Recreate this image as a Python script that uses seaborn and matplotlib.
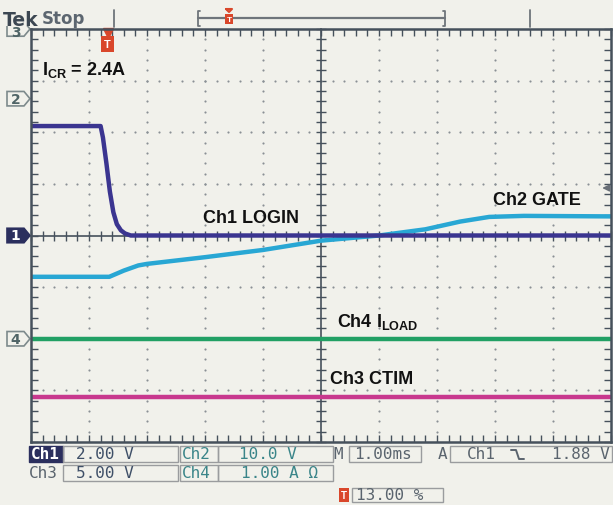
import numpy as np
import matplotlib
matplotlib.use("Agg")
import matplotlib.pyplot as plt
import matplotlib.transforms as mtransforms
from matplotlib.ticker import MultipleLocator, NullFormatter
from matplotlib.patches import Rectangle, Polygon
from matplotlib.lines import Line2D
import seaborn as sns

# trace breakpoints in screen divisions (x: 0..10, y: -4..4, 0 = centre line)
ch1_x = [0.0, 1.20, 1.24, 1.30, 1.36, 1.42, 1.48, 1.55, 1.62, 1.72, 10.0]
ch1_y = [2.12, 2.12, 1.90, 1.40, 0.85, 0.45, 0.22, 0.10, 0.04, 0.0, 0.0]
ch2_x = [0.0, 1.35, 1.6, 1.85, 2.0, 3.0, 4.0, 5.0, 6.0, 6.8, 7.4, 7.9, 8.5, 10.0]
ch2_y = [-0.80, -0.80, -0.68, -0.58, -0.55, -0.42, -0.28, -0.10, 0.0, 0.12, 0.27, 0.36, 0.38, 0.37]
ch3_x = [0.0, 10.0]
ch3_y = [-3.13, -3.13]
ch4_x = [0.0, 10.0]
ch4_y = [-2.0, -2.0]

# channel ground markers (divisions) and trigger
marker_names = ["1", "2", "4", "3"]
marker_levels = [0.0, 2.65, -2.0, 4.0]
trig_pos = 1.32
trig_level = 0.92

# scope readout
ch_labels = ["Ch1", "Ch2", "Ch3", "Ch4"]
ch_scales = ["2.00 V", "10.0 V", "5.00 V", "1.00 A \u03a9"]
timebase = "1.00ms"
trig_src = "Ch1"
trig_volts = "1.88 V"
trig_pct = "13.00 %"

BG = "#f1f1eb"
FRAME = "#46515c"
C1, C2, C3, C4 = "#3b3590", "#28a7d4", "#c8388e", "#21a064"
TRED = "#d9472b"

sns.set_theme(style="white")
plt.rcParams["font.family"] = ["Liberation Sans", "DejaVu Sans"]
plt.rcParams["mathtext.fontset"] = "custom"
plt.rcParams["mathtext.rm"] = "Liberation Sans:bold"
plt.rcParams["mathtext.bf"] = "Liberation Sans:bold"
plt.rcParams["mathtext.it"] = "Liberation Sans:bold"

W, H = 613, 506
fig = plt.figure(figsize=(W / 100, H / 100), dpi=100)
fig.patch.set_facecolor(BG)


def fx(x):
    return x / W


def fy(y):
    return 1 - y / H


rect = [fx(31), fy(443), 580 / W, 413 / H]

# graticule: centre cross + dotted grid (underneath)
gax = fig.add_axes(rect)
gax.set_facecolor(BG)
gax.set_xlim(0, 10)
gax.set_ylim(-4, 4)
for s in ["top", "right"]:
    gax.spines[s].set_visible(False)
gax.spines["left"].set_position(("data", 5))
gax.spines["bottom"].set_position(("data", 0))
for s in ["left", "bottom"]:
    gax.spines[s].set_color(FRAME)
    gax.spines[s].set_linewidth(1.2)
gax.xaxis.set_major_locator(MultipleLocator(0.2))
gax.yaxis.set_major_locator(MultipleLocator(0.2))
gax.tick_params(direction="inout", length=7, width=1, color=FRAME,
                labelbottom=False, labelleft=False, left=True, bottom=True)
steps_x = np.arange(0, 10.001, 0.2)
steps_y = np.arange(-4, 4.001, 0.2)
for gy in [-3, -2, -1, 1, 2, 3]:
    gax.scatter(steps_x, np.full_like(steps_x, gy), s=2.4, color="#8a9095", linewidths=0)
for gx in [1, 2, 3, 4, 6, 7, 8, 9]:
    gax.scatter(np.full_like(steps_y, gx), steps_y, s=2.4, color="#8a9095", linewidths=0)

# main axes with frame and traces
ax = fig.add_axes(rect)
ax.patch.set_alpha(0)
ax.set_xlim(0, 10)
ax.set_ylim(-4, 4)
for s in ax.spines.values():
    s.set_visible(True)
    s.set_color(FRAME)
    s.set_linewidth(1.8)
ax.xaxis.set_major_locator(MultipleLocator(0.2))
ax.yaxis.set_major_locator(MultipleLocator(0.2))
ax.xaxis.set_major_formatter(NullFormatter())
ax.yaxis.set_major_formatter(NullFormatter())
ax.tick_params(direction="in", length=5, width=1, color=FRAME,
               top=True, right=True, left=True, bottom=True)

for xs, ys, col in [(ch3_x, ch3_y, C3), (ch4_x, ch4_y, C4),
                    (ch2_x, ch2_y, C2), (ch1_x, ch1_y, C1)]:
    sns.lineplot(x=xs, y=ys, ax=ax, color=col, linewidth=3.2, estimator=None, sort=False)
ax.set_xlabel("")
ax.set_ylabel("")

lab = dict(fontsize=13, fontweight="bold", color="#111111", ha="left", va="baseline")
ax.text(0.19, 3.13, r"I$_{\mathrm{CR}}$ = 2.4A", **lab)
ax.text(2.97, 0.26, "Ch1 LOGIN", **lab)
ax.text(7.97, 0.61, "Ch2 GATE", **lab)
ax.text(5.28, -1.75, r"Ch4 I$_{\mathrm{LOAD}}$", **lab)
ax.text(5.16, -2.86, "Ch3 CTIM", **lab)

# trigger position marker and trigger level arrow
ax.plot([trig_pos], [3.93], marker="v", ms=7, color=TRED, clip_on=False)
ax.text(trig_pos, 3.71, "T", ha="center", va="center", fontsize=8, fontweight="bold",
        color="white", bbox=dict(boxstyle="square,pad=0.25", fc=TRED, ec="none"))
ax.annotate("", xy=(9.8, trig_level), xytext=(10.0, trig_level),
            arrowprops=dict(arrowstyle="-|>", color="#6a7078", lw=1.2, mutation_scale=10))

# channel ground markers at the left edge
btr = mtransforms.blended_transform_factory(fig.transFigure, ax.transData)
for name, lvl in zip(marker_names, marker_levels):
    h = 0.14
    pts = [(fx(7), lvl - h), (fx(24), lvl - h), (fx(30), lvl), (fx(24), lvl + h), (fx(7), lvl + h)]
    filled = name == "1"
    poly = Polygon(pts, closed=True, transform=btr, clip_on=False,
                   fc="#2b2f5e" if filled else BG, ec="#2b2f5e" if filled else "#7d8a8c", lw=1.2)
    ax.add_artist(poly)
    ax.text(fx(15.5), lvl - (0.06 if name == "3" else 0), name, transform=btr,
            ha="center", va="center", fontsize=10, fontweight="bold", family="DejaVu Sans",
            color="white" if filled else "#4f6466", clip_on=False)

# header bar (covers the top of the Ch3 marker)
fig.patches.append(Rectangle((0, fy(27)), 1, 1 - fy(27), transform=fig.transFigure,
                             fc=BG, ec="none", zorder=4))
fig.text(fx(3), fy(26), "Tek", fontsize=13.5, fontweight="bold", color="#3c4752",
         family="DejaVu Sans", zorder=6)
fig.text(fx(42), fy(24), "Stop", fontsize=12, fontweight="bold", color="#5c6670",
         family="DejaVu Sans", zorder=6)


def seg(xs, ys, col="#6f757b", lw=1.3):
    fig.lines.append(Line2D([fx(v) for v in xs], [fy(v) for v in ys],
                            transform=fig.transFigure, color=col, lw=lw, zorder=6))


seg([114, 114], [11, 28])
seg([530, 530], [11, 28])
seg([200, 198, 198, 200], [12, 12, 27, 27])
seg([198, 445], [19, 19], lw=1.6)
seg([443, 445, 445, 443], [12, 12, 27, 27])
fig.text(fx(229), fy(20), "T", ha="center", va="center", fontsize=6, fontweight="bold",
         color="white", zorder=7, bbox=dict(boxstyle="square,pad=0.2", fc=TRED, ec="none"))
seg([226, 232, 229, 226], [10, 10, 13, 10], col=TRED, lw=1.5)

# readout area


def box(x0, y0, x1, y1, fc="none", ec="#9a9c9e"):
    fig.patches.append(Rectangle((fx(x0), fy(y1)), (x1 - x0) / W, (y1 - y0) / H,
                                 transform=fig.transFigure, fc=fc, ec=ec, lw=1.0, zorder=5))


def rtext(x, y, s, col, **kw):
    fig.text(fx(x), fy(y), s, ha="left", va="center", fontsize=11.5, color=col,
             family="DejaVu Sans Mono", zorder=6, **kw)


SLATE, TEAL, GREY = "#3f5068", "#3a8589", "#5a646e"
r1, r2, r3 = 455, 474, 496
box(29, 447, 63, 463, fc="#2b2f5e", ec="#2b2f5e")
rtext(31, r1, ch_labels[0], "white", fontweight="bold")
box(63, 447, 178, 463)
rtext(76, r1, ch_scales[0], SLATE)
box(180, 447, 218, 463)
rtext(182, r1, ch_labels[1], TEAL)
box(218, 447, 333, 463)
rtext(239, r1, ch_scales[1], TEAL)
rtext(333, r1, "M", GREY)
box(349, 447, 421, 463)
rtext(354, r1, timebase, GREY)
rtext(438, r1, "A", GREY)
box(450, 447, 612, 463)
rtext(467, r1, trig_src, GREY)
seg([511, 516, 519, 524], [451, 451, 460, 460], col=GREY, lw=1.4)
rtext(552, r1, trig_volts, GREY)

box(63, 466, 178, 482)
rtext(29, r2, ch_labels[2], GREY)
rtext(76, r2, ch_scales[2], SLATE)
box(180, 466, 218, 482)
rtext(182, r2, ch_labels[3], TEAL)
box(218, 466, 333, 482)
rtext(241, r2, ch_scales[3], TEAL)

fig.text(fx(344), fy(r3), "T", ha="center", va="center", fontsize=7, fontweight="bold",
         color="white", zorder=7, bbox=dict(boxstyle="square,pad=0.25", fc=TRED, ec="none"))
box(352, 489, 443, 503)
rtext(356, r3, trig_pct, GREY)

fig.savefig("out.png", dpi=100, facecolor=BG)
